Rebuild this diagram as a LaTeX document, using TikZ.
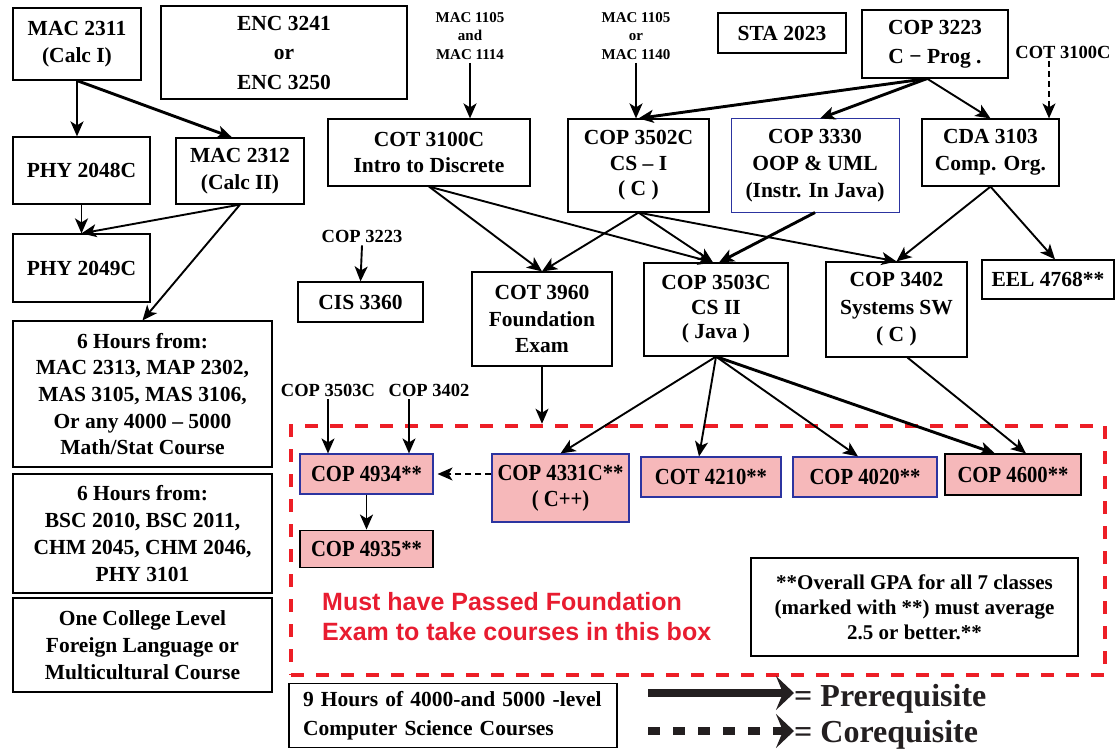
\documentclass[tikz,border=0pt]{standalone}
\usepackage{fontspec}
\setmainfont{Liberation Serif}
\newfontfamily\redsans{Liberation Sans}
\newfontfamily\pinkserif[FakeStretch=0.9]{Liberation Serif}
\usetikzlibrary{arrows.meta,positioning}

\definecolor{pinkfill}{RGB}{246,184,186}
\definecolor{boxblue}{RGB}{44,52,160}
\definecolor{redline}{RGB}{237,30,38}
\definecolor{redtext}{RGB}{232,28,48}
\definecolor{leggray}{RGB}{35,31,32}

\newcommand{\crsfont}{\fontsize{21.5}{26.7}\selectfont\bfseries}
\newcommand{\smlfont}{\fontsize{15}{18.5}\selectfont\bfseries}
\newcommand{\lblfont}{\fontsize{18.5}{22}\selectfont\bfseries}
\newcommand{\pinkfont}{\pinkserif\fontsize{23}{26}\selectfont\bfseries}
\newcommand{\legfont}{\fontsize{32}{38}\selectfont\bfseries}

\begin{document}
\begin{tikzpicture}[x=1pt,y=-1pt,>={Stealth[length=15pt,width=13pt,inset=4pt]},
course/.style={draw,line width=1.2pt,align=center,inner sep=0pt,font=\crsfont},
upper/.style={course,draw=boxblue,line width=1pt},
pinkbox/.style={course,fill=pinkfill,draw=boxblue,line width=1.1pt,font=\pinkfont},
lbl/.style={inner sep=3pt,align=center,font=\lblfont},
smalllbl/.style={lbl,font=\smlfont},
pre/.style={->,line width=1.9pt},
prethick/.style={->,line width=2.9pt},
co/.style={->,line width=1.4pt,dash pattern=on 6pt off 4pt},
legtext/.style={font=\legfont,text=leggray,inner sep=0pt},
legpre/.style={-{Stealth[length=18pt,width=34pt,inset=7pt]},line width=8pt,draw=leggray}]
\useasboundingbox (0,0) rectangle (1116,749);

% left column
\node[course,minimum width=128,minimum height=72] (mac2311) at (77,44) {MAC 2311\\(Calc I)};
\node[course,minimum width=246,minimum height=93,font=\fontsize{21.5}{29.5}\selectfont\bfseries] (enc) at (284,52.5) {ENC 3241\\or\\ENC 3250};
\node[course,minimum width=137,minimum height=67] (phy2048c) at (81.5,170.5) {PHY 2048C};
\node[course,minimum width=128,minimum height=66] (mac2312) at (240,171) {MAC 2312\\(Calc II)};
\node[course,minimum width=137,minimum height=68] (phy2049c) at (81.5,268) {PHY 2049C};
\node[course,minimum width=259,minimum height=146] (mathel) at (142.5,394) {6 Hours from:\\MAC 2313, MAP 2302,\\MAS 3105, MAS 3106,\\Or any 4000 – 5000\\Math/Stat Course};
\node[course,minimum width=259,minimum height=119] (sciel) at (142.5,533.5) {6 Hours from:\\BSC 2010, BSC 2011,\\CHM 2045, CHM 2046,\\PHY 3101};
\node[course,minimum width=259,minimum height=94] (langel) at (142.5,645) {One College Level\\Foreign Language or\\Multicultural Course};

% top row
\node[smalllbl] (mac1114) at (470,36) {MAC 1105\\and\\MAC 1114};
\node[smalllbl] (mac1140) at (636,36) {MAC 1105\\or\\MAC 1140};
\node[course,minimum width=128,minimum height=40] (sta2023) at (782,33) {STA 2023};
\node[course,minimum width=146,minimum height=68,font=\fontsize{21.5}{29}\selectfont\bfseries] (cop3223) at (935,44) {COP 3223\\C − Prog .};
\node[lbl] (cot3100cl) at (1063,52) {COT 3100C};

\node[course,minimum width=202,minimum height=67] (cot3100c) at (429,152.5) {COT 3100C\\Intro to Discrete};
\node[course,minimum width=141,minimum height=93,font=\fontsize{21.5}{25.5}\selectfont\bfseries] (cop3502c) at (638.5,165.5) {COP 3502C\\CS – I\\( C )};
\node[upper,minimum width=168,minimum height=93] (cop3330) at (815,165.5) {COP 3330\\OOP \& UML\\(Instr. In Java)};
\node[course,minimum width=137,minimum height=67] (cda3103) at (990.5,152.5) {CDA 3103\\Comp. Org.};

% middle row
\node[lbl] (cop3223l) at (362,236) {COP 3223};
\node[course,minimum width=125,minimum height=40] (cis3360) at (360.5,302) {CIS 3360};
\node[course,minimum width=140,minimum height=94] (cot3960) at (542,319) {COT 3960\\Foundation\\Exam};
\node[course,minimum width=144,minimum height=93,font=\fontsize{21.5}{24.5}\selectfont\bfseries] (cop3503c) at (716,309.5) {COP 3503C\\CS II\\( Java )};
\node[course,minimum width=141,minimum height=95,font=\fontsize{21.5}{27.5}\selectfont\bfseries] (cop3402) at (896.5,309.5) {COP 3402\\Systems SW\\( C )};
\node[course,minimum width=132,minimum height=39] (eel4768) at (1048,279.5) {EEL 4768**};

% foundation box
\node[draw=redline,line width=4.5pt,dash pattern=on 13pt off 12pt,minimum width=814,minimum height=249,inner sep=0pt] (foundbox) at (698,550.5) {};
\node[lbl] (cop3503cl) at (328,390) {COP 3503C};
\node[lbl] (cop3402l) at (429,390) {COP 3402};
\node[pinkbox,minimum width=133,minimum height=40] (cop4934) at (366.5,474) {COP 4934**};
\node[pinkbox,minimum width=133,minimum height=37,draw=black,below=35pt of cop4934] (cop4935) {COP 4935**};
\node[pinkbox,minimum width=137,minimum height=68] (cop4331c) at (560.5,488) {COP 4331C**\\( C++)};
\node[pinkbox,minimum width=140,minimum height=40] (cot4210) at (711,477) {COT 4210**};
\node[pinkbox,minimum width=144,minimum height=40] (cop4020) at (865,477) {COP 4020**};
\node[pinkbox,minimum width=136,minimum height=41,draw=black] (cop4600) at (1013,474.5) {COP 4600**};
\node[anchor=west,align=left,inner sep=0pt,text=redtext,font=\redsans\fontsize{25}{30}\selectfont\bfseries] (mustpass) at (322,617) {Must have Passed Foundation\\Exam to take courses in this box};
\node[course,minimum width=327,minimum height=98,font=\fontsize{21}{25}\selectfont\bfseries] (gpa) at (914.5,607) {**Overall GPA for all 7 classes\\ (marked with **) must average\\2.5 or better.**};

% bottom
\node[course,align=left,text width=300,inner xsep=14pt,minimum height=64.5,font=\fontsize{21.5}{29}\selectfont\bfseries] (cselect) at (453,715.5) {9 Hours of 4000-and 5000 -level\\Computer Science Courses};
\coordinate (prestart) at (648,693);
\coordinate (costart) at (648,731);
\node[legtext,anchor=base west] (prereq) at (794,706) {= Prerequisite};
\node[legtext,anchor=base west] (coreq) at (794,742) {= Corequisite};

% prerequisites
\draw[pre] (mac2311.south) -- (mac2311.south |- phy2048c.north);
\draw[prethick] (mac2311.south) -- ([xshift=-8]mac2312.north);
\draw[pre] (phy2048c.south) -- (phy2049c.north);
\draw[pre] (mac2312.south) -- (phy2049c.north);
\draw[pre] (mac2312.south) -- (mathel.north);
\draw[pre] (mac1114.south) -- (mac1114.south |- cot3100c.north);
\draw[pre] (mac1140.south) -- (mac1140.south |- cop3502c.north);
\draw[prethick] ([xshift=-8]cop3223.south) -- (cop3502c.north);
\draw[prethick] ([xshift=-8]cop3223.south) -- ([xshift=5]cop3330.north);
\draw[pre] ([xshift=-8]cop3223.south) -- (cda3103.north);
\draw[co] ([xshift=-14]cot3100cl.south) -- ([xshift=-14]cot3100cl.south |- cda3103.north);
\draw[pre] (cot3100c.south) -- (cot3960.north);
\draw[pre] (cot3100c.south) -- ([xshift=-3]cop3503c.north);
\draw[pre] (cop3502c.south) -- (cot3960.north);
\draw[pre] (cop3502c.south) -- ([xshift=-3]cop3503c.north);
\draw[pre] (cop3502c.south) -- (cop3402.north);
\draw[prethick] (cop3330.south) -- ([xshift=3]cop3503c.north);
\draw[pre] (cda3103.south) -- (cop3402.north);
\draw[pre] (cda3103.south) -- ([xshift=7]eel4768.north);
\draw[pre] (cop3223l.south) -- (cis3360.north);
\draw[pre] (cot3960.south) -- (cot3960.south |- foundbox.north);
\draw[pre] (cop3503c.south) -- (cop4331c.north);
\draw[pre] (cop3503c.south) -- ([xshift=-12]cot4210.north);
\draw[pre] (cop3503c.south) -- ([xshift=-7]cop4020.north);
\draw[prethick] (cop3503c.south) -- ([xshift=-18]cop4600.north);
\draw[pre] ([xshift=11]cop3402.south) -- ([xshift=13]cop4600.north);
\draw[pre] (cop3503cl.south) -- (cop3503cl.south |- cop4934.north);
\draw[pre] ([xshift=-20]cop3402l.south) -- ([xshift=-20]cop3402l.south |- cop4934.north);
\draw[co] (cop4331c.west |- cop4934.east) -- ([xshift=4]cop4934.east);
\draw[pre] (cop4934.south) -- (cop4935.north);

% legend
\draw[legpre] (prestart) -- (prestart -| prereq.west);
\draw[legpre,dash pattern=on 12pt off 13pt] (costart) -- (costart -| coreq.west);
\end{tikzpicture}
\end{document}
